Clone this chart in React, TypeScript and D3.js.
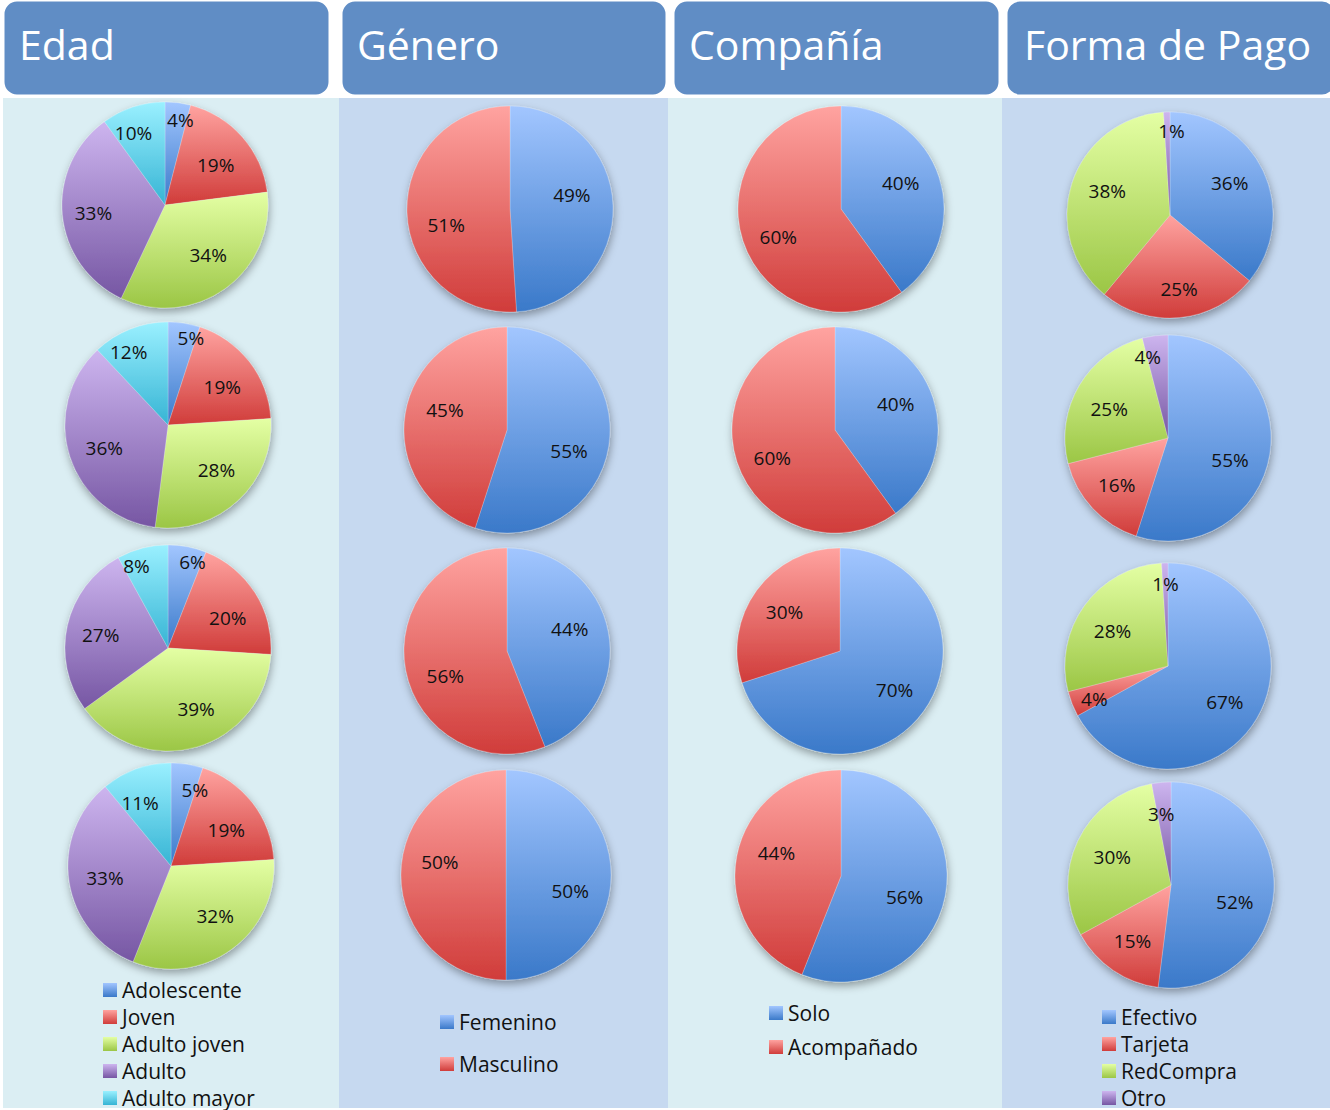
import React from 'react';
import * as d3 from 'd3';

// ---- Data ----
const panelTitles = ['Edad', 'Género', 'Compañía', 'Forma de Pago'];

const edadCategories = ['Adolescente', 'Joven', 'Adulto joven', 'Adulto', 'Adulto mayor'];
const edadValues = [
  [4, 19, 34, 33, 10],
  [5, 19, 28, 36, 12],
  [6, 20, 39, 27, 8],
  [5, 19, 32, 33, 11],
];

const generoCategories = ['Femenino', 'Masculino'];
const generoValues = [
  [49, 51],
  [55, 45],
  [44, 56],
  [50, 50],
];

const companiaCategories = ['Solo', 'Acompañado'];
const companiaValues = [
  [40, 60],
  [40, 60],
  [70, 30],
  [56, 44],
];

const pagoCategories = ['Efectivo', 'Tarjeta', 'RedCompra', 'Otro'];
const pagoValues = [
  [36, 25, 38, 1],
  [55, 16, 25, 4],
  [67, 4, 28, 1],
  [52, 15, 30, 3],
];

// ---- Styles / layout ----
const palette = [
  { id: 'gBlue', top: '#a2c6ff', bottom: '#3a79c9' },
  { id: 'gRed', top: '#ffa3a0', bottom: '#d03c3a' },
  { id: 'gGreen', top: '#e4ffa4', bottom: '#9bc645' },
  { id: 'gPurple', top: '#cdb5ef', bottom: '#7656a3' },
  { id: 'gCyan', top: '#9af0ff', bottom: '#36b4d4' },
];

const FONT = "'Open Sans', 'Noto Sans', sans-serif";

const panelBg = ['#dbeef3', '#c6d9f0', '#dbeef3', '#c6d9f0'];
const panelX = [3, 339, 668, 1002, 1332];
const headers = [
  { x: 3, w: 327, tx: 19 },
  { x: 341, w: 326, tx: 357 },
  { x: 673, w: 327, tx: 689 },
  { x: 1006, w: 330, tx: 1024 },
];

const pieCenters = [
  [[165, 205], [168, 425], [168, 648], [171, 866]],
  [[510, 209], [507, 430], [507, 651], [506, 875]],
  [[841, 209], [835, 430], [840, 651], [841, 876]],
  [[1170, 215], [1168, 438], [1168, 666], [1171, 885]],
];
const pieRadii = [
  [103, 103, 103, 103],
  [103, 103, 103, 105],
  [103, 103, 103, 106],
  [103, 103, 103, 103],
];

// label nudges (Excel "best fit" placement), per panel / pie / slice
const labelNudge = [
  [
    [[5, -3], [2, 3], [5, -2], [-7, 2], [-6, 6]],
    [[10, -6], [3, 2], [4, -2], [-2, 3], [-9, 4]],
    [[9, -5], [5, 5], [10, -1], [-4, 1], [-11, -2]],
    [[11, 5], [4, 4], [6, -2], [-2, 2], [-3, 15]],
  ],
  [
    [[-3, -12], [1, 14]],
    [[-2, 11], [2, -10]],
    [[-1, -10], [2, 13]],
    [[-2, 16], [0, -13]],
  ],
  [
    [[-2, -6], [-1, 8]],
    [[-1, -6], [-1, 8]],
    [[2, 1], [-3, -1]],
    [[-2, 8], [1, -11]],
  ],
  [
    [[1, -4], [3, 9], [-1, -4], [4, -2]],
    [[-2, 12], [-4, 3], [-3, 4], [-10, 1]],
    [[1, 3], [3, 3], [-3, 3], [0, 0]],
    [[-1, 13], [-2, 2], [0, 0], [-2, 11]],
  ],
];

const legends = [
  { x: 103, y0: 990, dy: 27 },
  { x: 440, y0: 1022, dy: 42 },
  { x: 769, y0: 1013, dy: 34 },
  { x: 1102, y0: 1017, dy: 27 },
];

const panels = [
  { cats: edadCategories, vals: edadValues },
  { cats: generoCategories, vals: generoValues },
  { cats: companiaCategories, vals: companiaValues },
  { cats: pagoCategories, vals: pagoValues },
];

function Pie({ values, cx, cy, r, nudge }: { values: number[]; cx: number; cy: number; r: number; nudge: number[][] }) {
  const pie = d3.pie<number>().sort(null).value((d) => d);
  const arcs = pie(values);
  const arc = d3.arc<d3.PieArcDatum<number>>().innerRadius(0).outerRadius(r);
  const total = d3.sum(values);
  return (
    <g transform={`translate(${cx},${cy})`}>
      <g filter="url(#pieShadow)">
        {arcs.map((a, i) => (
          <path key={i} d={arc(a) || ''} fill={`url(#${palette[i].id})`} stroke="rgba(255,255,255,0.35)" strokeWidth={0.6} />
        ))}
      </g>
      {arcs.map((a, i) => {
        const frac = a.value / total;
        const mid = (a.startAngle + a.endAngle) / 2;
        const rr = r * (frac < 0.13 ? 0.8 : 0.63);
        const x = Math.sin(mid) * rr + (nudge[i] ? nudge[i][0] : 0);
        const y = -Math.cos(mid) * rr + (nudge[i] ? nudge[i][1] : 0);
        return (
          <text key={'t' + i} x={x} y={y} textAnchor="middle" dominantBaseline="central"
            fontFamily={FONT} fontSize={19} fill="#111">
            {`${a.value}%`}
          </text>
        );
      })}
    </g>
  );
}

export default function App() {
  return (
    <svg width={1330} height={1110} style={{ position: 'absolute', left: 0, top: 0, background: '#fff' }}>
      <defs>
        {palette.map((p) => (
          <linearGradient key={p.id} id={p.id} x1="0" y1="0" x2="0" y2="1">
            <stop offset="0%" stopColor={p.top} />
            <stop offset="100%" stopColor={p.bottom} />
          </linearGradient>
        ))}
        <filter id="pieShadow" x="-20%" y="-20%" width="140%" height="150%">
          <feDropShadow dx="1" dy="4" stdDeviation="4" floodColor="#000" floodOpacity="0.35" />
        </filter>
      </defs>

      {panelBg.map((c, i) => (
        <rect key={'bg' + i} x={panelX[i]} y={98} width={panelX[i + 1] - panelX[i]} height={1010} fill={c} />
      ))}

      {headers.map((h, i) => (
        <g key={'h' + i}>
          <rect x={h.x} y={0} width={h.w} height={96} rx={14} ry={14} fill="#608dc5" stroke="#fff" strokeWidth={3} />
          <text x={h.tx} y={60} fontFamily={FONT} fontSize={41} fill="#fff">{panelTitles[i]}</text>
        </g>
      ))}

      {panels.map((p, ci) =>
        p.vals.map((v, ri) => (
          <Pie key={`p${ci}-${ri}`} values={v} cx={pieCenters[ci][ri][0]} cy={pieCenters[ci][ri][1]}
            r={pieRadii[ci][ri]} nudge={labelNudge[ci][ri]} />
        ))
      )}

      {panels.map((p, ci) => (
        <g key={'lg' + ci}>
          {p.cats.map((c, k) => {
            const y = legends[ci].y0 + k * legends[ci].dy;
            return (
              <g key={c}>
                <rect x={legends[ci].x} y={y - 7} width={14} height={14} fill={`url(#${palette[k].id})`} />
                <text x={legends[ci].x + 19} y={y} dominantBaseline="central" fontFamily={FONT} fontSize={21} fill="#111">{c}</text>
              </g>
            );
          })}
        </g>
      ))}
    </svg>
  );
}
